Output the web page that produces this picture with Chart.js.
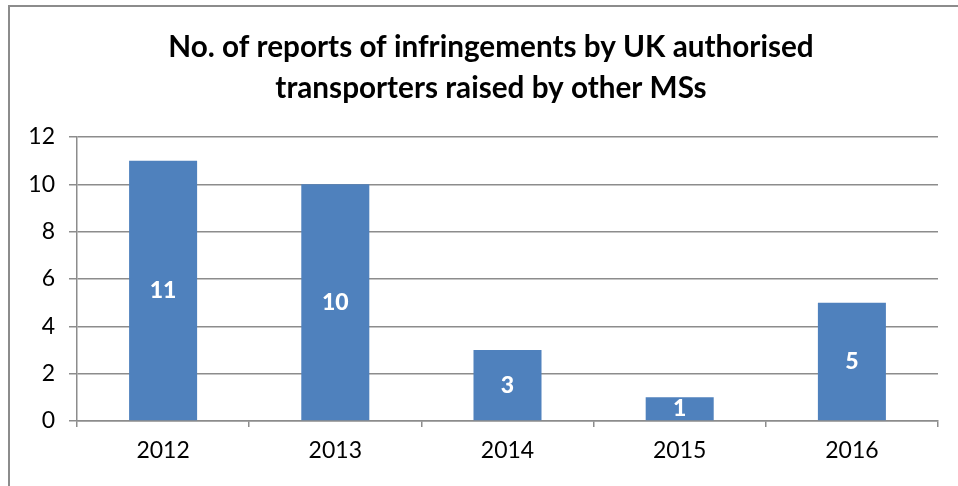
<html>
<head>
    <meta charset="utf-8">
    <script src="https://cdn.jsdelivr.net/npm/chart.js"></script>
    <style>
        body { margin: 0; overflow: hidden; background: #fff; }
        .frame {
            position: absolute;
            left: 8px;
            top: 5px;
            width: 966px;
            height: 500px;
            border: 2px solid #8c8c8c;
        }
    </style>
    <title>Reports of infringements</title>
</head>
<body>
    <div class="frame">
        <canvas id="myChart" width="956" height="479"></canvas>
    </div>
    <script>
        // dados do gráfico
        var anos = ['2012', '2013', '2014', '2015', '2016'];
        var relatorios = [11, 10, 3, 1, 5];
        var titulo = ['No. of reports of infringements by UK authorised', 'transporters raised by other MSs'];

        var fonte = 'Lato, "Open Sans", sans-serif';

        // escreve o valor no meio de cada barra
        var rotulosBarras = {
            id: 'rotulosBarras',
            afterDatasetsDraw: function (chart) {
                var ctx = chart.ctx;
                var meta = chart.getDatasetMeta(0);
                ctx.save();
                ctx.fillStyle = '#ffffff';
                ctx.font = '900 23px ' + fonte;
                ctx.textAlign = 'center';
                ctx.textBaseline = 'middle';
                meta.data.forEach(function (bar, i) {
                    var meio = (bar.y + bar.base) / 2;
                    ctx.fillText(String(relatorios[i]), bar.x, meio);
                });
                ctx.restore();
            }
        };

        // título em duas linhas, centrado no quadro todo
        var tituloQuadro = {
            id: 'tituloQuadro',
            afterDraw: function (chart) {
                var ctx = chart.ctx;
                ctx.save();
                ctx.fillStyle = '#000';
                ctx.font = 'bold 29.7px ' + fonte;
                ctx.textAlign = 'center';
                ctx.textBaseline = 'middle';
                titulo.forEach(function (linha, i) {
                    ctx.fillText(linha, 481, 40 + i * 41);
                });
                ctx.restore();
            }
        };

        var ctx = document.getElementById('myChart').getContext('2d');
        var myChart = new Chart(ctx, {
            type: 'bar',
            data: {
                labels: anos,
                datasets: [{
                    data: relatorios,
                    backgroundColor: '#4F81BD',
                    borderWidth: 0,
                    barPercentage: 0.395,
                    categoryPercentage: 1
                }]
            },
            plugins: [rotulosBarras, tituloQuadro],
            options: {
                responsive: false,
                animation: false,
                layout: {
                    padding: { left: 0, right: 28, top: 130, bottom: 0 }
                },
                plugins: {
                    legend: { display: false },
                    tooltip: { enabled: false },
                    title: { display: false }
                },
                scales: {
                    x: {
                        grid: {
                            offset: true,
                            drawOnChartArea: false,
                            drawTicks: true,
                            tickLength: 6,
                            color: '#8c8c8c',
                            lineWidth: 1.5
                        },
                        border: { color: '#8c8c8c', width: 1.5 },
                        ticks: {
                            color: '#000',
                            padding: 10,
                            font: { family: fonte, size: 23 }
                        },
                        afterFit: function (scale) { scale.height = 65; }
                    },
                    y: {
                        min: 0,
                        max: 12,
                        grid: {
                            color: '#8c8c8c',
                            lineWidth: 1.5,
                            tickLength: 8
                        },
                        border: { color: '#8c8c8c', width: 1.5 },
                        ticks: {
                            stepSize: 2,
                            color: '#000',
                            padding: 14,
                            font: { family: fonte, size: 23 }
                        },
                        afterFit: function (scale) { scale.width = 67; }
                    }
                }
            }
        });
    </script>
</body>
</html>
